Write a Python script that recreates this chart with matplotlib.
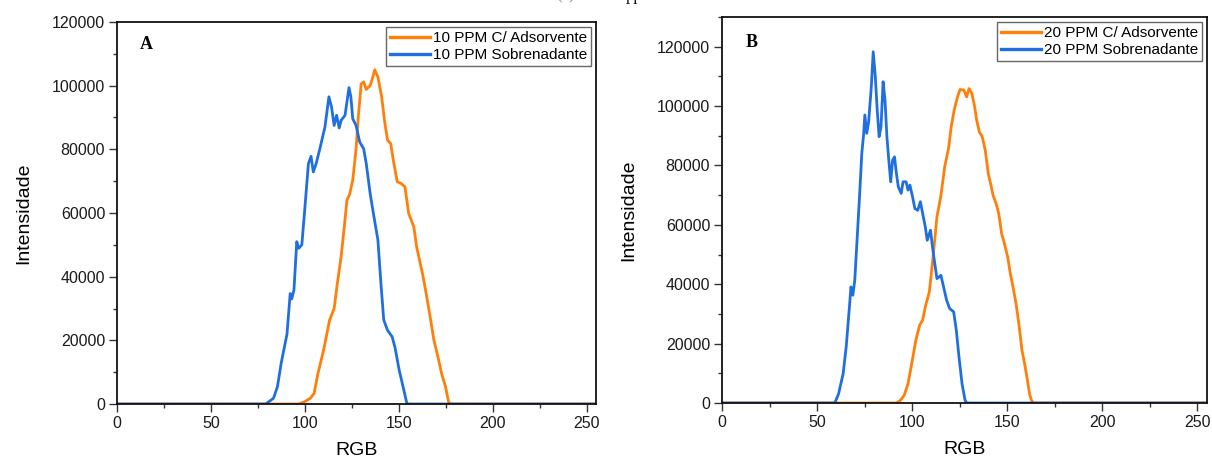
import matplotlib
matplotlib.use("Agg")
import matplotlib.pyplot as plt
from matplotlib.ticker import MultipleLocator

plt.rcParams['font.family'] = ['Liberation Sans', 'DejaVu Sans']

# ---- Panel A data (10 PPM) ----
a_ads_x = [0, 96.7, 99.8, 102.9, 104.9, 107, 110, 113.2, 115.6, 117.3, 119.3, 121, 122.4, 123.9,
           125.5, 127.2, 128.6, 130, 131.3, 132.7, 134.8, 136.2, 137.2, 138.9, 140.9, 142.4,
           144, 145.7, 147.1, 149.2, 151.2, 153.3, 155.3, 158, 159.5, 162.6, 164.6, 166.7,
           168.7, 170.8, 172.8, 174.9, 176.5, 177.5, 255]
a_ads_y = [0, 0, 700, 1800, 3300, 9600, 17000, 26400, 30000, 37900, 46200, 55700, 64000, 66000,
           70300, 79700, 91200, 100600, 101200, 98800, 100100, 102700, 105000, 102700, 96500,
           89100, 82900, 81800, 76600, 69800, 69300, 68200, 59800, 55700, 49400, 41000, 34700,
           27400, 20100, 14900, 9600, 5400, 700, 0, 0]

a_sob_x = [0, 79.2, 83.3, 85.4, 87.4, 90.5, 92.2, 93, 94.2, 95.7, 96.7, 98.4, 99.8, 101.9, 103.3,
           104.5, 106, 108, 110.7, 112.8, 114.2, 115.6, 116.9, 118.3, 119.3, 121.4, 123.5,
           124.5, 125.5, 127.2, 129.2, 131.3, 132.7, 134.8, 136.8, 138.9, 140.5, 142, 144,
           146.5, 148.1, 150.2, 152.7, 154.3, 155.2, 255]
a_sob_y = [0, 0, 1800, 5400, 12800, 22000, 34700, 33000, 35800, 51000, 48900, 50000, 60000, 75500,
           77800, 72900, 75500, 80200, 87000, 96500, 93300, 87500, 90700, 86700, 89100, 90700,
           99400, 96500, 89600, 87600, 82300, 80200, 75500, 66000, 58800, 51500, 37900, 26400,
           23200, 21100, 17500, 10700, 4400, 200, 0, 0]

# ---- Panel B data (20 PPM) ----
b_ads_x = [0, 91.7, 93.8, 95.8, 97.8, 99.9, 101.9, 103.9, 105.5, 106.9, 109, 111, 113, 115, 117.1,
           119.1, 120.5, 122.1, 123.8, 125.2, 127.2, 128.6, 129.9, 131.3, 132.7, 133.9, 135.3,
           136.8, 138.4, 140, 141.4, 142.5, 144.1, 145.5, 147, 148.5, 150.2, 151.6, 153, 154.6,
           156.3, 157.7, 159.1, 160.3, 161.7, 162.7, 163.8, 255]
b_ads_y = [0, 0, 900, 2600, 6500, 13800, 21100, 26200, 27900, 32400, 37400, 49200, 62700, 69400,
           79600, 85700, 93000, 98700, 103100, 105600, 105400, 103100, 105900, 104300, 100300,
           95300, 91300, 89700, 85200, 77300, 73400, 70000, 67200, 63800, 57100, 53700, 49200,
           43600, 39100, 33500, 25600, 17800, 13300, 8800, 3100, 900, 0, 0]

b_sob_x = [0, 59.3, 61.3, 63.7, 65.3, 67, 67.8, 68.8, 69.8, 71, 72.4, 73.5, 74.5, 75.1, 76.1, 77.1,
           78.5, 79.5, 80.6, 81.6, 82.6, 83.6, 84.7, 85.7, 86.7, 87.7, 88.7, 89.7, 90.7, 91.7,
           92.7, 94.2, 95.2, 96.8, 97.8, 98.8, 100.2, 101.4, 102.9, 104.3, 105.5, 106.9, 107.9,
           109.6, 111, 113, 115.1, 116.5, 118.1, 119.7, 121.8, 123.2, 124.6, 126.2, 127.8,
           128.8, 255]
b_sob_y = [0, 0, 3100, 9900, 18900, 32400, 39100, 36300, 41300, 54800, 70600, 84000, 90800, 97000,
           90800, 94700, 106500, 118300, 109900, 98700, 89700, 93000, 108200, 102000, 89700,
           81800, 74500, 81800, 82900, 77300, 72800, 70600, 74500, 74500, 71700, 73400, 69400,
           65500, 64900, 67800, 63800, 59300, 54800, 58200, 50900, 41900, 43000, 39100, 34600,
           31800, 30700, 24500, 15500, 6500, 900, 0, 0]

labels_a = ["10 PPM C/ Adsorvente", "10 PPM Sobrenadante"]
labels_b = ["20 PPM C/ Adsorvente", "20 PPM Sobrenadante"]
panel_letters = ["A", "B"]
x_label = "RGB"
y_label = "Intensidade"

ORANGE = '#FF7F0A'
BLUE = '#1F6FE0'

fig = plt.figure(figsize=(12.12, 4.61), dpi=100)
W, H = 1212, 461
axA = fig.add_axes([117 / W, (H - 404) / H, (596 - 117) / W, (404 - 22) / H])
axB = fig.add_axes([722 / W, (H - 403) / H, (1207 - 722) / W, (403 - 17) / H])

panels = [
    (axA, a_ads_x, a_ads_y, a_sob_x, a_sob_y, labels_a, 120000, (0.048, 0.942)),
    (axB, b_ads_x, b_ads_y, b_sob_x, b_sob_y, labels_b, 130000, (0.049, 0.933)),
]

for i, (ax, ox, oy, bx, by, labs, ytop, lpos) in enumerate(panels):
    ax.plot(ox, oy, color=ORANGE, lw=2.0, label=labs[0], solid_joinstyle='round')
    ax.plot(bx, by, color=BLUE, lw=2.0, label=labs[1], solid_joinstyle='round')
    ax.set_xlim(0, 255)
    ax.set_ylim(0, ytop)
    ax.xaxis.set_major_locator(MultipleLocator(50))
    ax.xaxis.set_minor_locator(MultipleLocator(25))
    ax.yaxis.set_major_locator(MultipleLocator(20000))
    ax.yaxis.set_minor_locator(MultipleLocator(10000))
    ax.tick_params(which='major', direction='out', length=5.5, width=1.0,
                   color='#333333', labelsize=11.5, labelcolor='#1a1a1a', pad=3)
    ax.tick_params(which='minor', direction='out', length=3, width=1.0, color='#333333')
    for s in ax.spines.values():
        s.set_linewidth(1.3)
        s.set_color('#111111')
    ax.set_xlabel(x_label, fontsize=14, labelpad=8)
    ax.set_ylabel(y_label, fontsize=14, labelpad=14)
    ax.text(lpos[0], lpos[1], panel_letters[i], transform=ax.transAxes,
            fontsize=13, fontweight='bold', family='Liberation Serif', va='center')
    leg = ax.legend(loc='upper right', fontsize=11, handlelength=2.6, handletextpad=0.2,
                    borderpad=0.25, labelspacing=0.2, borderaxespad=0.35,
                    fancybox=False, framealpha=1.0)
    leg.get_frame().set_edgecolor('#666666')
    leg.get_frame().set_linewidth(1.0)
    for line in leg.get_lines():
        line.set_linewidth(2.4)

# cut-off caption at the very top of the image (only descenders visible)
fig.text(556 / W, 1 + 0.5 / H, "(a)", family='Liberation Serif', fontsize=12,
         va='baseline', ha='left', color='#888888')
fig.text(626 / W, 1 + 0.5 / H, "ppm", family='Liberation Serif', fontsize=12,
         va='baseline', ha='left', color='#111111')

fig.savefig("out.png", dpi=100)
